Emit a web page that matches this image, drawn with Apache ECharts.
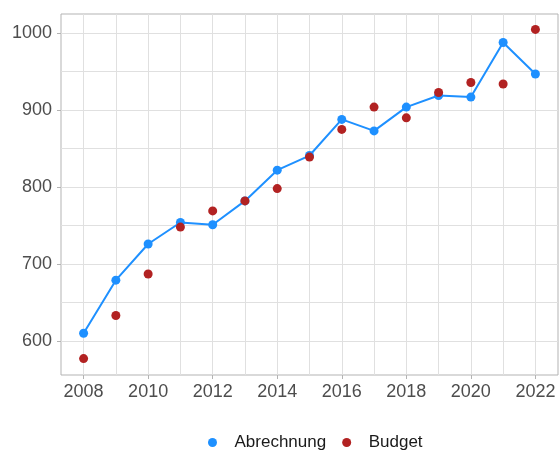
<!DOCTYPE html>
<html>
<head>
<meta charset="utf-8">
<script src="https://cdn.jsdelivr.net/npm/echarts@6/dist/echarts.min.js"></script>
<style>
  html, body { margin: 0; padding: 0; background: #fff; }
  #chart { width: 559px; height: 451px; }
</style>
</head>
<body>
<div id="chart"></div>
<script>
// data
var years = [2008, 2009, 2010, 2011, 2012, 2013, 2014, 2015, 2016, 2017, 2018, 2019, 2020, 2021, 2022];
var abrechnung = [610, 679, 726, 754, 751, 782, 822, 841, 888, 873, 904, 919, 917, 988, 947];
var budget = [577, 633, 687, 748, 769, 782, 798, 839, 875, 904, 890, 923, 936, 934, 1005];

var xLabelYears = [2008, 2010, 2012, 2014, 2016, 2018, 2020, 2022];
var yLabelValues = [600, 700, 800, 900, 1000];
var yGridValues = [600, 650, 700, 750, 800, 850, 900, 950, 1000];

var textColor = "#4d4d4d";
var gridColor = "#e0e0e0";
var borderColor = "#b3b3b3";
var fontFamily = "Liberation Sans, Arial, sans-serif";

function pairs(xs, ys) {
  var out = [];
  for (var i = 0; i < xs.length; i++) {
    out.push([xs[i], ys[i]]);
  }
  return out;
}

function plain(v) {
  return String(v);
}

var chart = echarts.init(document.getElementById("chart"));
chart.setOption({
  animation: false,
  textStyle: { fontFamily: fontFamily },
  grid: {
    left: 61,
    right: 1,
    top: 14,
    bottom: 76,
    show: true,
    borderColor: borderColor,
    borderWidth: 1,
    backgroundColor: "transparent",
  },
  xAxis: [
    {
      // grid lines on every year
      type: "value",
      min: 2007.3,
      max: 2022.7,
      axisLine: { show: false },
      axisTick: { show: false, customValues: years },
      axisLabel: { show: false },
      splitLine: { show: true, lineStyle: { color: gridColor, width: 1 } },
    },
    {
      // ticks and labels on even years
      type: "value",
      min: 2007.3,
      max: 2022.7,
      position: "bottom",
      axisLine: { show: false },
      axisTick: {
        show: true,
        customValues: xLabelYears,
        length: 4,
        lineStyle: { color: borderColor },
      },
      axisLabel: {
        customValues: xLabelYears,
        formatter: plain,
        color: textColor,
        fontSize: 18,
        margin: 8,
      },
      splitLine: { show: false },
    },
  ],
  yAxis: [
    {
      type: "value",
      min: 555.7,
      max: 1025,
      axisLine: { show: false },
      axisTick: { show: false, customValues: yGridValues },
      axisLabel: { show: false },
      splitLine: { show: true, lineStyle: { color: gridColor, width: 1 } },
    },
    {
      type: "value",
      min: 555.7,
      max: 1025,
      position: "left",
      axisLine: { show: false },
      axisTick: {
        show: true,
        customValues: yLabelValues,
        length: 4,
        lineStyle: { color: borderColor },
      },
      axisLabel: {
        customValues: yLabelValues,
        formatter: plain,
        color: textColor,
        fontSize: 18,
        margin: 9,
      },
      splitLine: { show: false },
    },
  ],
  legend: {
    left: 203,
    top: 429,
    icon: "circle",
    itemWidth: 10,
    itemHeight: 9,
    itemGap: 16,
    textStyle: {
      color: "#1a1a1a",
      fontSize: 17,
      padding: [0, 0, 0, 12],
    },
    data: ["Abrechnung", "Budget"],
  },
  series: [
    {
      name: "Abrechnung",
      type: "line",
      data: pairs(years, abrechnung),
      color: "#1e90ff",
      symbol: "circle",
      symbolSize: 9,
      showSymbol: true,
      lineStyle: { width: 2, color: "#1e90ff" },
      itemStyle: { color: "#1e90ff" },
      z: 2,
    },
    {
      name: "Budget",
      type: "scatter",
      data: pairs(years, budget),
      color: "#b22222",
      symbol: "circle",
      symbolSize: 9,
      itemStyle: { color: "#b22222", opacity: 1 },
      z: 3,
    },
  ],
});
</script>
</body>
</html>
